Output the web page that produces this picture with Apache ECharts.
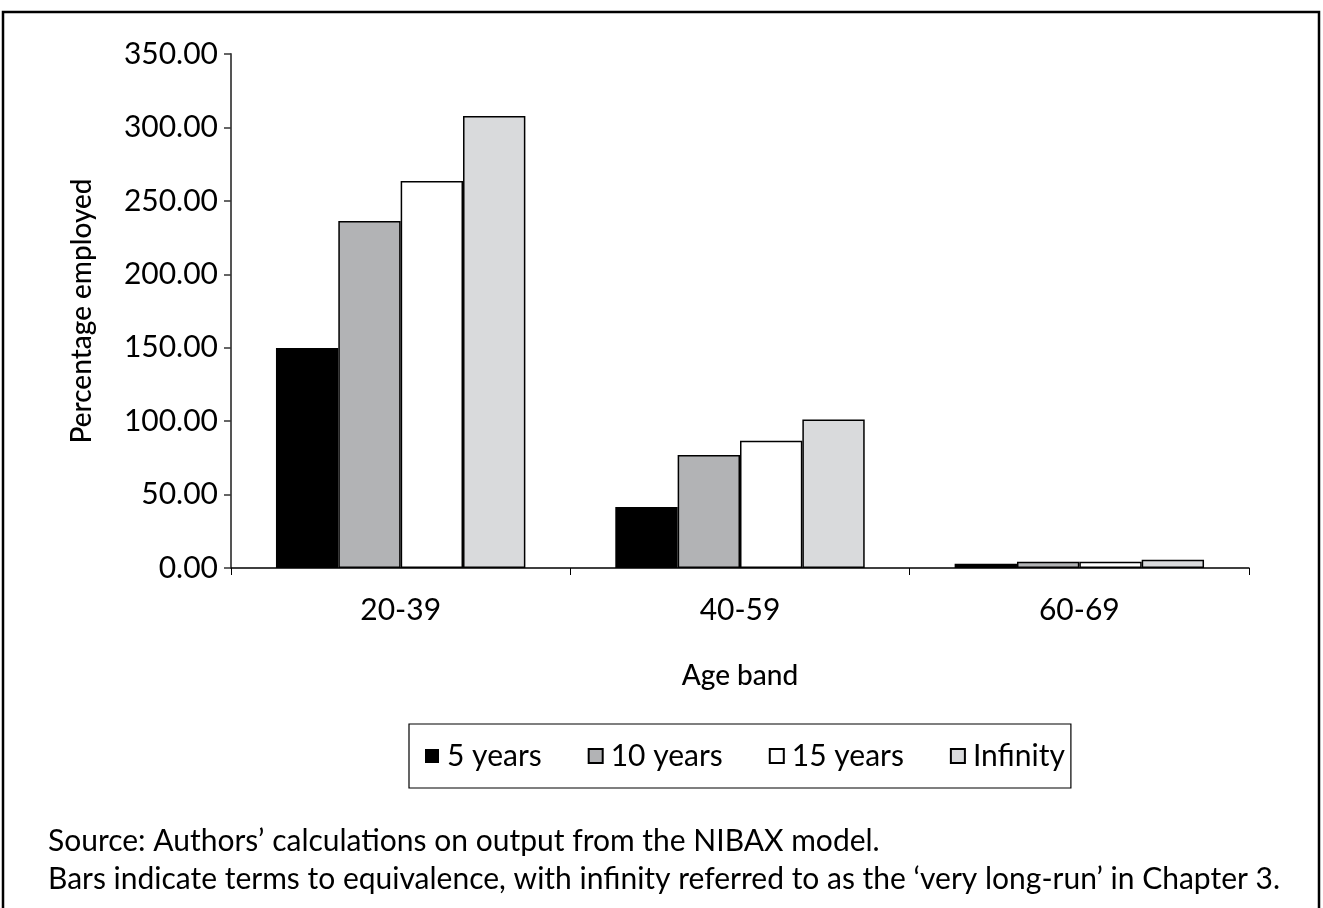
<!DOCTYPE html>
<html>
<head>
<meta charset="utf-8">
<script src="https://cdn.jsdelivr.net/npm/echarts@6/dist/echarts.min.js"></script>
<style>
html,body{margin:0;padding:0;background:#fff;}
#chart{width:1323px;height:908px;}
</style>
</head>
<body>
<div id="chart"></div>
<script>
const categories = ['20-39', '40-59', '60-69'];
const seriesNames = ['5 years', '10 years', '15 years', 'Infinity'];
const years5 = [149.8, 41.5, 2.9];
const years10 = [236.3, 76.9, 4.2];
const years15 = [263.5, 86.7, 4.3];
const infinity = [307.8, 101.2, 5.6];
const sourceLines = [
  'Source: Authors\u2019 calculations on output from the NIBAX model.',
  'Bars indicate terms to equivalence, with infinity referred to as the \u2018very long-run\u2019 in Chapter 3.'
];

const FONT = 'Lato';
const colors = ['#000000', '#b2b3b5', '#ffffff', '#d9dadc'];
const values = [years5, years10, years15, infinity];

const chart = echarts.init(document.getElementById('chart'), null, {renderer: 'canvas'});
chart.setOption({
  animation: false,
  backgroundColor: '#fff',
  textStyle: {fontFamily: FONT},
  grid: {left: 231, right: 74, top: 54, bottom: 340, containLabel: false},
  xAxis: {
    type: 'category',
    data: categories,
    name: 'Age band',
    nameLocation: 'middle',
    nameGap: 94,
    nameTextStyle: {fontSize: 28, color: '#000', fontFamily: FONT, fontWeight: 500},
    axisLine: {lineStyle: {color: '#000', width: 1.5}},
    axisTick: {show: true, alignWithLabel: false, length: 7, lineStyle: {color: '#000'}},
    axisLabel: {fontSize: 30, color: '#000', margin: 27, fontFamily: FONT}
  },
  yAxis: {
    type: 'value',
    min: 0, max: 350, interval: 50,
    name: 'Percentage employed',
    nameLocation: 'middle',
    nameRotate: 90,
    nameGap: 135,
    nameTextStyle: {fontSize: 28, color: '#000', fontFamily: FONT, fontWeight: 500},
    axisLine: {show: true, lineStyle: {color: '#555', width: 2}},
    axisTick: {show: true, inside: false, length: 7, lineStyle: {color: '#333', width: 1.5}},
    splitLine: {show: false},
    axisLabel: {fontSize: 30, color: '#000', margin: 13, fontFamily: FONT,
      formatter: v => v.toFixed(2)}
  },
  legend: {
    data: seriesNames,
    left: 409, top: 724,
    padding: [17, 6, 17, 16],
    borderColor: '#000', borderWidth: 1.2,
    icon: 'rect', itemWidth: 14, itemHeight: 14, itemGap: 46,
    textStyle: {fontSize: 30, color: '#000', fontFamily: FONT, padding: [0, 0, 0, 3]}
  },
  series: seriesNames.map((n, i) => ({
    name: n,
    type: 'bar',
    data: values[i],
    barGap: '0%',
    barCategoryGap: '26.5%',
    itemStyle: {color: colors[i], borderColor: '#000', borderWidth: i === 0 ? 0 : 1.5}
  })),
  graphic: [
    {type: 'rect', shape: {x: 3, y: 12, width: 1316, height: 920},
     style: {fill: 'none', stroke: '#000', lineWidth: 2.5}, silent: true},
    {type: 'text', left: 48, top: 826, style: {text: sourceLines[0], fontSize: 30, fill: '#000', fontFamily: FONT}},
    {type: 'text', left: 48, top: 864, style: {text: sourceLines[1], fontSize: 30, fill: '#000', fontFamily: FONT}}
  ]
});
</script>
</body>
</html>
